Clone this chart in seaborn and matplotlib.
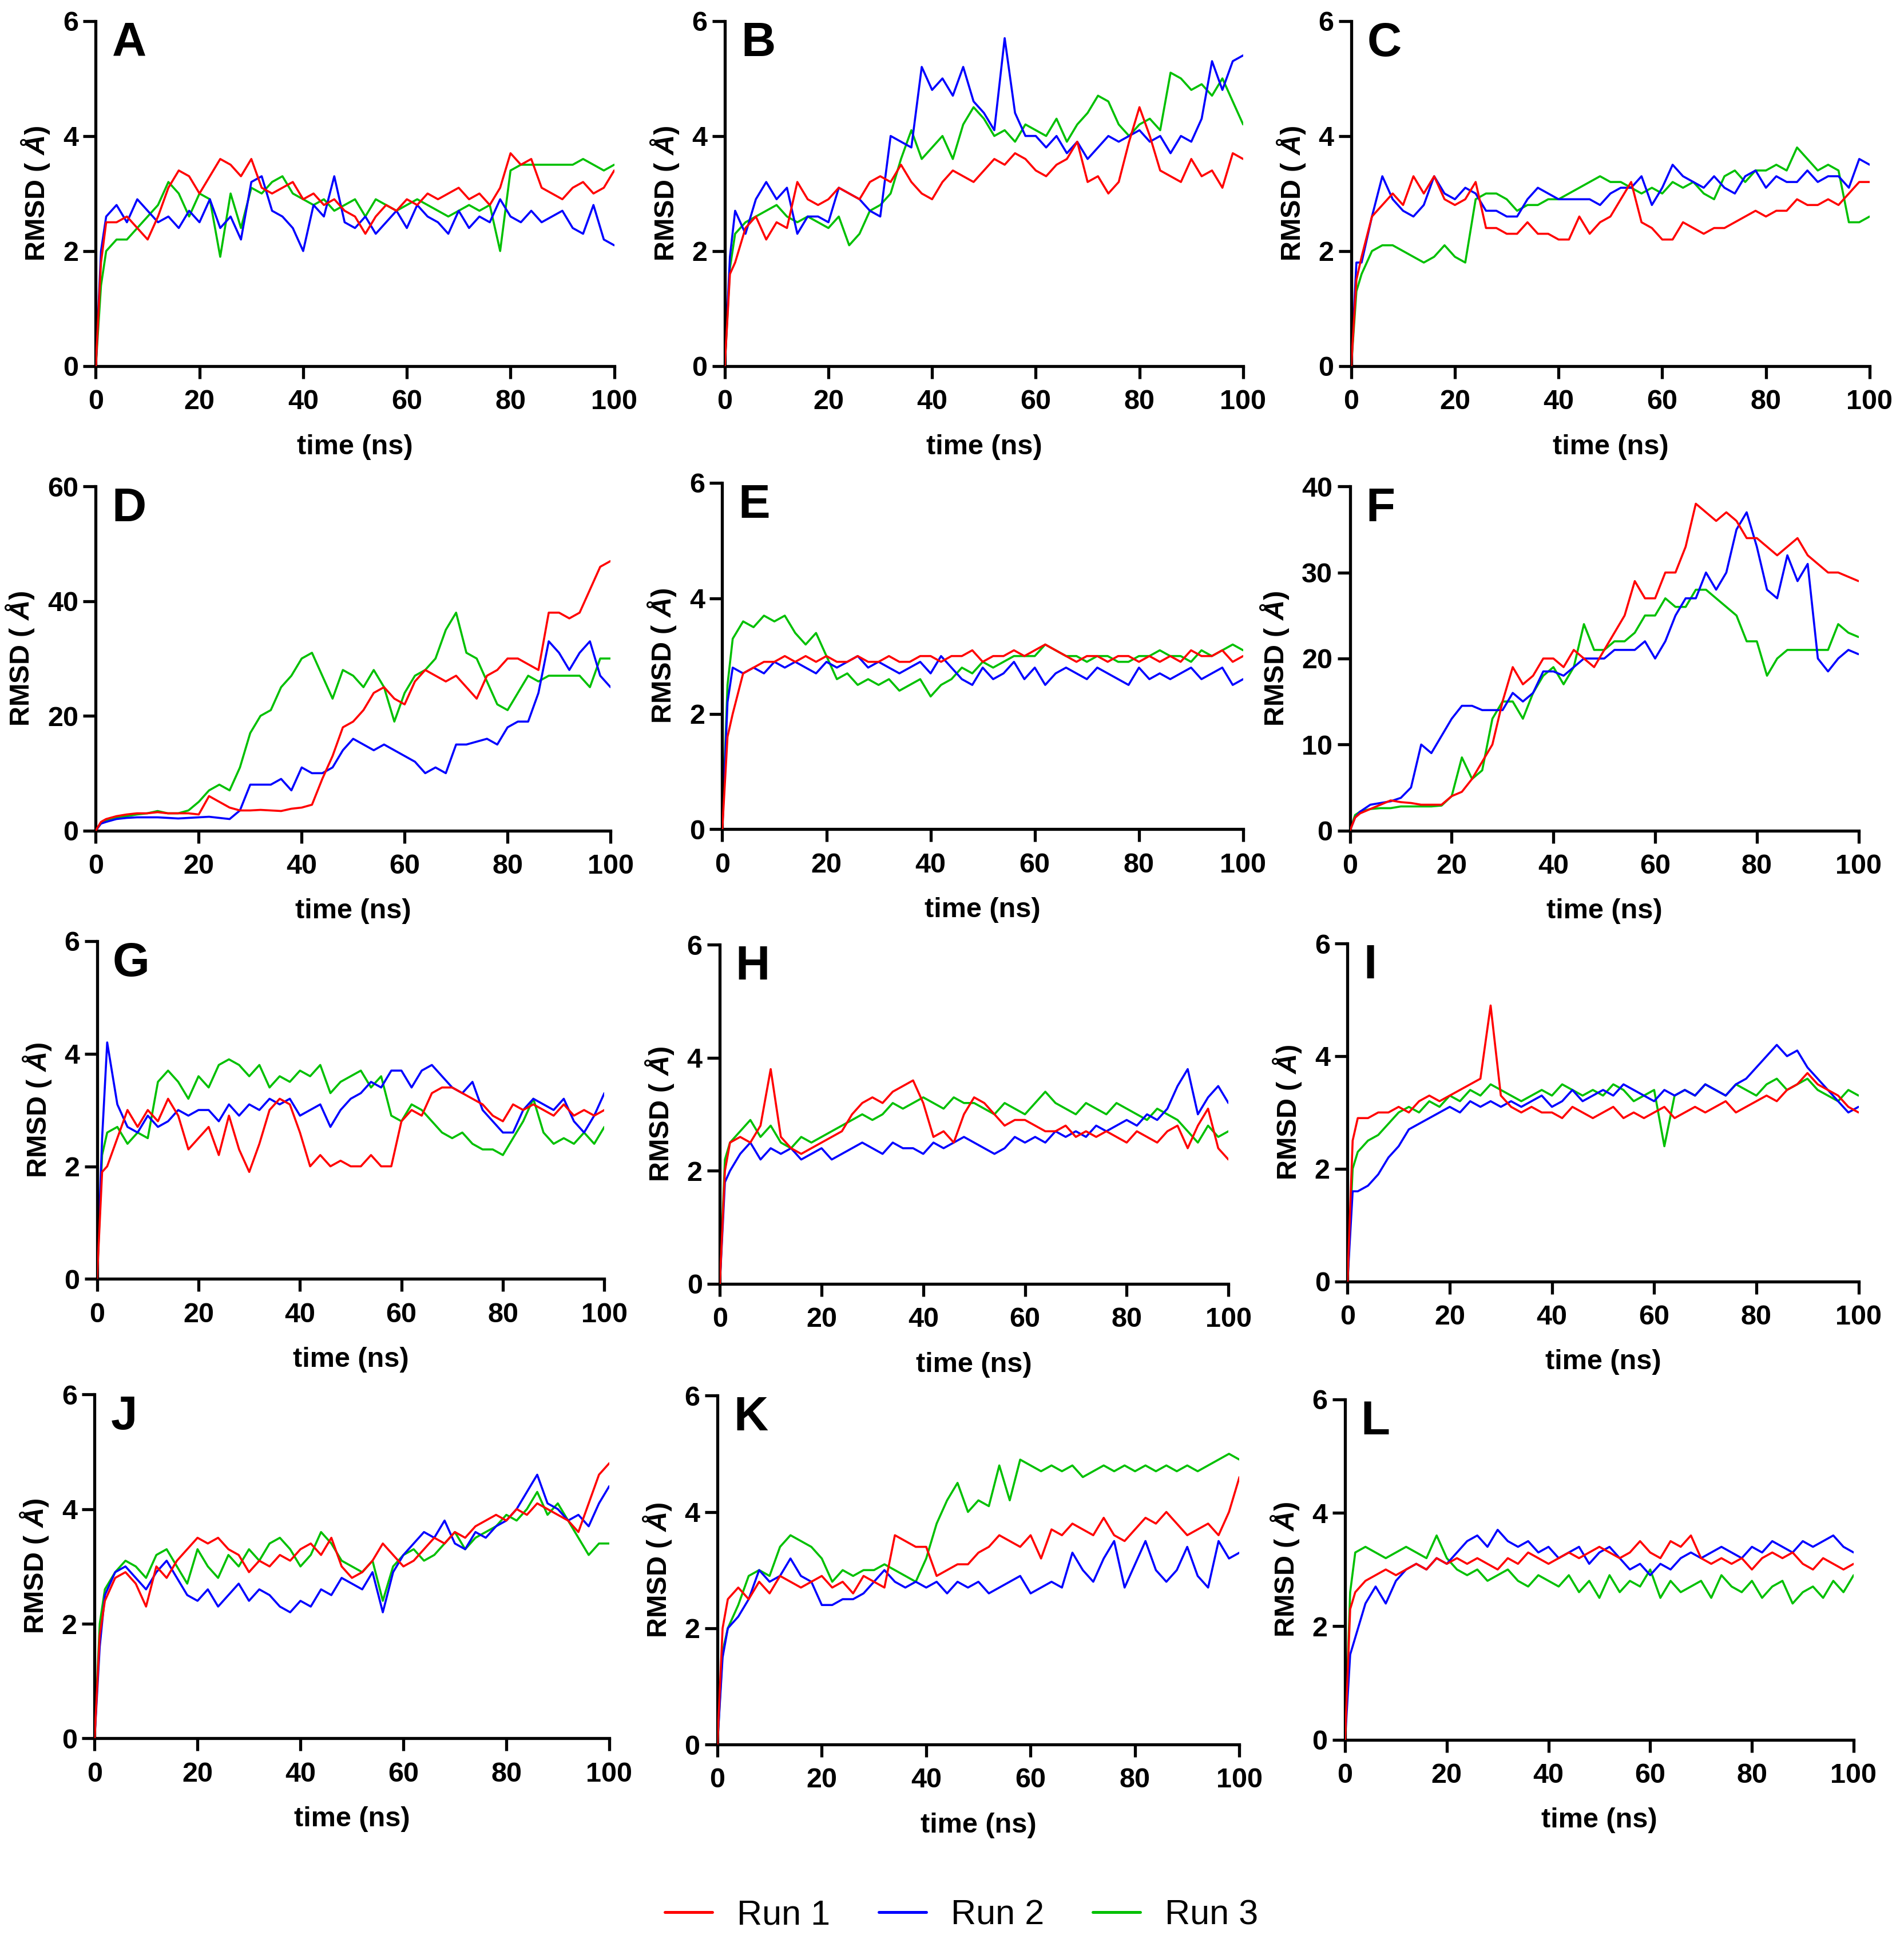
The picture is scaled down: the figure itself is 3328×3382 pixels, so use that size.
import matplotlib
matplotlib.use('Agg')
import matplotlib.pyplot as plt
from matplotlib.lines import Line2D
import seaborn as sns

sns.set_style("ticks")
plt.rcParams['font.family'] = ['Liberation Sans', 'DejaVu Sans']
plt.rcParams['mathtext.fontset'] = 'custom'
plt.rcParams['mathtext.rm'] = 'Liberation Sans:bold'
plt.rcParams['mathtext.it'] = 'Liberation Sans:italic:bold'
plt.rcParams['mathtext.bf'] = 'Liberation Sans:bold'
for key in ['text.color', 'axes.labelcolor', 'xtick.color', 'ytick.color',
            'axes.edgecolor']:
    plt.rcParams[key] = 'black'

# time grid (ns)
time_ns = [0, 1] + list(range(2, 101, 2))

run_labels = ['Run 1', 'Run 2', 'Run 3']
run_colors = ['#ff0000', '#0000ff', '#00c000']

# ---- panel A (RMSD, Å) ----
a_run1 = [0, 1.8,
          2.5, 2.5, 2.6, 2.4, 2.2, 2.6, 3.1, 3.4, 3.3, 3.0,
          3.3, 3.6, 3.5, 3.3, 3.6, 3.1, 3.0, 3.1, 3.2, 2.9,
          3.0, 2.8, 2.9, 2.7, 2.6, 2.3, 2.6, 2.8, 2.7, 2.9,
          2.8, 3.0, 2.9, 3.0, 3.1, 2.9, 3.0, 2.8, 3.1, 3.7,
          3.5, 3.6, 3.1, 3.0, 2.9, 3.1, 3.2, 3.0, 3.1, 3.4]
a_run2 = [0, 2.0,
          2.6, 2.8, 2.5, 2.9, 2.7, 2.5, 2.6, 2.4, 2.7, 2.5,
          2.9, 2.4, 2.6, 2.2, 3.2, 3.3, 2.7, 2.6, 2.4, 2.0,
          2.8, 2.6, 3.3, 2.5, 2.4, 2.6, 2.3, 2.5, 2.7, 2.4,
          2.8, 2.6, 2.5, 2.3, 2.7, 2.4, 2.6, 2.5, 2.9, 2.6,
          2.5, 2.7, 2.5, 2.6, 2.7, 2.4, 2.3, 2.8, 2.2, 2.1]
a_run3 = [0, 1.4,
          2.0, 2.2, 2.2, 2.4, 2.6, 2.8, 3.2, 3.0, 2.6, 3.0,
          2.9, 1.9, 3.0, 2.4, 3.1, 3.0, 3.2, 3.3, 3.0, 2.9,
          2.8, 2.9, 2.7, 2.8, 2.9, 2.6, 2.9, 2.8, 2.7, 2.8,
          2.9, 2.8, 2.7, 2.6, 2.7, 2.8, 2.7, 2.8, 2.0, 3.4,
          3.5, 3.5, 3.5, 3.5, 3.5, 3.5, 3.6, 3.5, 3.4, 3.5]

# ---- panel B ----
b_run1 = [0, 1.6,
          1.8, 2.4, 2.6, 2.2, 2.5, 2.4, 3.2, 2.9, 2.8, 2.9,
          3.1, 3.0, 2.9, 3.2, 3.3, 3.2, 3.5, 3.2, 3.0, 2.9,
          3.2, 3.4, 3.3, 3.2, 3.4, 3.6, 3.5, 3.7, 3.6, 3.4,
          3.3, 3.5, 3.6, 3.9, 3.2, 3.3, 3.0, 3.2, 3.9, 4.5,
          4.0, 3.4, 3.3, 3.2, 3.6, 3.3, 3.4, 3.1, 3.7, 3.6]
b_run2 = [0, 1.9,
          2.7, 2.3, 2.9, 3.2, 2.9, 3.1, 2.3, 2.6, 2.6, 2.5,
          3.1, 3.0, 2.9, 2.7, 2.6, 4.0, 3.9, 3.8, 5.2, 4.8,
          5.0, 4.7, 5.2, 4.6, 4.4, 4.1, 5.7, 4.4, 4.0, 4.0,
          3.8, 4.0, 3.7, 3.9, 3.6, 3.8, 4.0, 3.9, 4.0, 4.1,
          3.9, 4.0, 3.7, 4.0, 3.9, 4.3, 5.3, 4.8, 5.3, 5.4]
b_run3 = [0, 1.7,
          2.3, 2.5, 2.6, 2.7, 2.8, 2.6, 2.5, 2.6, 2.5, 2.4,
          2.6, 2.1, 2.3, 2.7, 2.8, 3.0, 3.6, 4.1, 3.6, 3.8,
          4.0, 3.6, 4.2, 4.5, 4.3, 4.0, 4.1, 3.9, 4.2, 4.1,
          4.0, 4.3, 3.9, 4.2, 4.4, 4.7, 4.6, 4.2, 4.0, 4.2,
          4.3, 4.1, 5.1, 5.0, 4.8, 4.9, 4.7, 5.0, 4.6, 4.2]

# ---- panel C ----
c_run1 = [0, 1.5,
          1.9, 2.6, 2.8, 3.0, 2.8, 3.3, 3.0, 3.3, 2.9, 2.8,
          2.9, 3.2, 2.4, 2.4, 2.3, 2.3, 2.5, 2.3, 2.3, 2.2,
          2.2, 2.6, 2.3, 2.5, 2.6, 2.9, 3.2, 2.5, 2.4, 2.2,
          2.2, 2.5, 2.4, 2.3, 2.4, 2.4, 2.5, 2.6, 2.7, 2.6,
          2.7, 2.7, 2.9, 2.8, 2.8, 2.9, 2.8, 3.0, 3.2, 3.2]
c_run2 = [0, 1.8,
          1.8, 2.6, 3.3, 2.9, 2.7, 2.6, 2.8, 3.3, 3.0, 2.9,
          3.1, 3.0, 2.7, 2.7, 2.6, 2.6, 2.9, 3.1, 3.0, 2.9,
          2.9, 2.9, 2.9, 2.8, 3.0, 3.1, 3.1, 3.3, 2.8, 3.1,
          3.5, 3.3, 3.2, 3.1, 3.3, 3.1, 3.0, 3.3, 3.4, 3.1,
          3.3, 3.2, 3.2, 3.4, 3.2, 3.3, 3.3, 3.1, 3.6, 3.5]
c_run3 = [0, 1.3,
          1.6, 2.0, 2.1, 2.1, 2.0, 1.9, 1.8, 1.9, 2.1, 1.9,
          1.8, 2.9, 3.0, 3.0, 2.9, 2.7, 2.8, 2.8, 2.9, 2.9,
          3.0, 3.1, 3.2, 3.3, 3.2, 3.2, 3.1, 3.0, 3.1, 3.0,
          3.2, 3.1, 3.2, 3.0, 2.9, 3.3, 3.4, 3.2, 3.4, 3.4,
          3.5, 3.4, 3.8, 3.6, 3.4, 3.5, 3.4, 2.5, 2.5, 2.6]

# ---- panel D ----
d_run1 = [0, 1.5,
          2.0, 2.5, 2.8, 3.0, 3.0, 3.2, 3.0, 3.0, 3.0, 2.8,
          6.0, 5.0, 4.0, 3.5, 3.5, 3.6, 3.5, 3.4, 3.8, 4.0,
          4.5, 9.0, 13.0, 18.0, 19.0, 21.0, 24.0, 25.0, 23.0, 22.0,
          26.0, 28.0, 27.0, 26.0, 27.0, 25.0, 23.0, 27.0, 28.0, 30.0,
          30.0, 29.0, 28.0, 38.0, 38.0, 37.0, 38.0, 42.0, 46.0, 47.0]
d_run2 = [0, 1.2,
          1.5, 2.0, 2.2, 2.3, 2.3, 2.3, 2.2, 2.1, 2.2, 2.3,
          2.4, 2.2, 2.0, 3.5, 8.0, 8.0, 8.0, 9.0, 7.0, 11.0,
          10.0, 10.0, 11.0, 14.0, 16.0, 15.0, 14.0, 15.0, 14.0, 13.0,
          12.0, 10.0, 11.0, 10.0, 15.0, 15.0, 15.5, 16.0, 15.0, 18.0,
          19.0, 19.0, 24.0, 33.0, 31.0, 28.0, 31.0, 33.0, 27.0, 25.0]
d_run3 = [0, 1.3,
          1.8, 2.2, 2.5, 2.8, 3.0, 3.4, 3.0, 3.0, 3.5, 5.0,
          7.0, 8.0, 7.0, 11.0, 17.0, 20.0, 21.0, 25.0, 27.0, 30.0,
          31.0, 27.0, 23.0, 28.0, 27.0, 25.0, 28.0, 25.0, 19.0, 24.0,
          27.0, 28.0, 30.0, 35.0, 38.0, 31.0, 30.0, 26.0, 22.0, 21.0,
          24.0, 27.0, 26.0, 27.0, 27.0, 27.0, 27.0, 25.0, 30.0, 30.0]

# ---- panel E ----
e_run1 = [0, 1.6,
          2.0, 2.7, 2.8, 2.9, 2.9, 3.0, 2.9, 3.0, 2.9, 3.0,
          2.9, 2.9, 3.0, 2.9, 2.9, 3.0, 2.9, 2.9, 3.0, 3.0,
          2.9, 3.0, 3.0, 3.1, 2.9, 3.0, 3.0, 3.1, 3.0, 3.1,
          3.2, 3.1, 3.0, 2.9, 3.0, 3.0, 2.9, 3.0, 3.0, 2.9,
          3.0, 2.9, 3.0, 2.9, 3.1, 3.0, 3.0, 3.1, 2.9, 3.0]
e_run2 = [0, 2.2,
          2.8, 2.7, 2.8, 2.7, 2.9, 2.8, 2.9, 2.8, 2.7, 2.9,
          2.8, 2.9, 3.0, 2.8, 2.9, 2.8, 2.7, 2.8, 2.9, 2.7,
          3.0, 2.8, 2.6, 2.5, 2.8, 2.6, 2.7, 2.9, 2.6, 2.8,
          2.5, 2.7, 2.8, 2.7, 2.6, 2.8, 2.7, 2.6, 2.5, 2.8,
          2.6, 2.7, 2.6, 2.7, 2.8, 2.6, 2.7, 2.8, 2.5, 2.6]
e_run3 = [0, 2.5,
          3.3, 3.6, 3.5, 3.7, 3.6, 3.7, 3.4, 3.2, 3.4, 3.0,
          2.6, 2.7, 2.5, 2.6, 2.5, 2.6, 2.4, 2.5, 2.6, 2.3,
          2.5, 2.6, 2.8, 2.7, 2.9, 2.8, 2.9, 3.0, 3.0, 3.0,
          3.2, 3.1, 3.0, 3.0, 2.9, 3.0, 3.0, 2.9, 2.9, 3.0,
          3.0, 3.1, 3.0, 3.0, 2.9, 3.1, 3.0, 3.1, 3.2, 3.1]

# ---- panel F ----
f_run1 = [0, 1.5,
          2.0, 2.5, 3.0, 3.5, 3.3, 3.2, 3.0, 3.0, 3.0, 4.0,
          4.5, 6.0, 8.0, 10.0, 15.0, 19.0, 17.0, 18.0, 20.0, 20.0,
          19.0, 21.0, 20.0, 19.0, 21.0, 23.0, 25.0, 29.0, 27.0, 27.0,
          30.0, 30.0, 33.0, 38.0, 37.0, 36.0, 37.0, 36.0, 34.0, 34.0,
          33.0, 32.0, 33.0, 34.0, 32.0, 31.0, 30.0, 30.0, 29.5, 29.0]
f_run2 = [0, 1.5,
          2.2, 3.0, 3.2, 3.4, 3.8, 5.0, 10.0, 9.0, 11.0, 13.0,
          14.5, 14.5, 14.0, 14.0, 14.0, 16.0, 15.0, 16.0, 18.5, 18.5,
          18.0, 19.0, 20.0, 20.0, 20.0, 21.0, 21.0, 21.0, 22.0, 20.0,
          22.0, 25.0, 27.0, 27.0, 30.0, 28.0, 30.0, 35.0, 37.0, 33.0,
          28.0, 27.0, 32.0, 29.0, 31.0, 20.0, 18.5, 20.0, 21.0, 20.5]
f_run3 = [0, 1.8,
          2.2, 2.5, 2.6, 2.6, 2.8, 2.8, 2.8, 2.8, 2.9, 4.0,
          8.5, 6.0, 7.0, 13.0, 15.0, 15.0, 13.0, 16.0, 18.0, 19.0,
          17.0, 19.0, 24.0, 21.0, 21.0, 22.0, 22.0, 23.0, 25.0, 25.0,
          27.0, 26.0, 26.0, 28.0, 28.0, 27.0, 26.0, 25.0, 22.0, 22.0,
          18.0, 20.0, 21.0, 21.0, 21.0, 21.0, 21.0, 24.0, 23.0, 22.5]

# ---- panel G ----
g_run1 = [0, 1.9,
          2.0, 2.5, 3.0, 2.7, 3.0, 2.8, 3.2, 2.9, 2.3, 2.5,
          2.7, 2.2, 2.9, 2.3, 1.9, 2.4, 3.0, 3.2, 3.1, 2.6,
          2.0, 2.2, 2.0, 2.1, 2.0, 2.0, 2.2, 2.0, 2.0, 2.8,
          3.0, 2.9, 3.3, 3.4, 3.4, 3.3, 3.2, 3.1, 2.9, 2.8,
          3.1, 3.0, 3.1, 3.0, 2.9, 3.1, 2.9, 3.0, 2.9, 3.0]
g_run2 = [0, 2.5,
          4.2, 3.1, 2.7, 2.6, 2.9, 2.7, 2.8, 3.0, 2.9, 3.0,
          3.0, 2.8, 3.1, 2.9, 3.1, 3.0, 3.2, 3.1, 3.2, 2.9,
          3.0, 3.1, 2.7, 3.0, 3.2, 3.3, 3.5, 3.4, 3.7, 3.7,
          3.4, 3.7, 3.8, 3.6, 3.4, 3.3, 3.5, 3.0, 2.8, 2.6,
          2.6, 3.0, 3.2, 3.1, 3.0, 3.2, 2.8, 2.6, 2.9, 3.3]
g_run3 = [0, 2.2,
          2.6, 2.7, 2.4, 2.6, 2.5, 3.5, 3.7, 3.5, 3.2, 3.6,
          3.4, 3.8, 3.9, 3.8, 3.6, 3.8, 3.4, 3.6, 3.5, 3.7,
          3.6, 3.8, 3.3, 3.5, 3.6, 3.7, 3.4, 3.6, 2.9, 2.8,
          3.1, 3.0, 2.8, 2.6, 2.5, 2.6, 2.4, 2.3, 2.3, 2.2,
          2.5, 2.8, 3.2, 2.6, 2.4, 2.5, 2.4, 2.6, 2.4, 2.7]

# ---- panel H ----
h_run1 = [0, 2.0,
          2.5, 2.6, 2.5, 2.8, 3.8, 2.6, 2.4, 2.3, 2.4, 2.5,
          2.6, 2.7, 3.0, 3.2, 3.3, 3.2, 3.4, 3.5, 3.6, 3.2,
          2.6, 2.7, 2.5, 3.0, 3.3, 3.2, 3.0, 2.8, 2.9, 2.9,
          2.8, 2.7, 2.7, 2.8, 2.6, 2.7, 2.6, 2.7, 2.6, 2.5,
          2.7, 2.6, 2.5, 2.7, 2.8, 2.4, 2.8, 3.1, 2.4, 2.2]
h_run2 = [0, 1.8,
          2.0, 2.3, 2.5, 2.2, 2.4, 2.3, 2.4, 2.2, 2.3, 2.4,
          2.2, 2.3, 2.4, 2.5, 2.4, 2.3, 2.5, 2.4, 2.4, 2.3,
          2.5, 2.4, 2.5, 2.6, 2.5, 2.4, 2.3, 2.4, 2.6, 2.5,
          2.6, 2.5, 2.7, 2.6, 2.7, 2.6, 2.8, 2.7, 2.8, 2.9,
          2.8, 3.0, 2.9, 3.1, 3.5, 3.8, 3.0, 3.3, 3.5, 3.2]
h_run3 = [0, 2.2,
          2.5, 2.7, 2.9, 2.6, 2.8, 2.5, 2.4, 2.6, 2.5, 2.6,
          2.7, 2.8, 2.9, 3.0, 2.9, 3.0, 3.2, 3.1, 3.2, 3.3,
          3.2, 3.1, 3.3, 3.2, 3.2, 3.1, 3.0, 3.2, 3.1, 3.0,
          3.2, 3.4, 3.2, 3.1, 3.0, 3.2, 3.1, 3.0, 3.2, 3.1,
          3.0, 2.9, 3.1, 3.0, 2.9, 2.7, 2.5, 2.8, 2.6, 2.7]

# ---- panel I ----
i_run1 = [0, 2.5,
          2.9, 2.9, 3.0, 3.0, 3.1, 3.0, 3.2, 3.3, 3.2, 3.3,
          3.4, 3.5, 3.6, 4.9, 3.3, 3.1, 3.0, 3.1, 3.0, 3.0,
          2.9, 3.1, 3.0, 2.9, 3.0, 3.1, 2.9, 3.0, 2.9, 3.0,
          3.1, 2.9, 3.0, 3.1, 3.0, 3.1, 3.2, 3.0, 3.1, 3.2,
          3.3, 3.2, 3.4, 3.5, 3.7, 3.5, 3.4, 3.3, 3.1, 3.0]
i_run2 = [0, 1.6,
          1.6, 1.7, 1.9, 2.2, 2.4, 2.7, 2.8, 2.9, 3.0, 3.1,
          3.0, 3.2, 3.1, 3.2, 3.1, 3.2, 3.1, 3.2, 3.3, 3.1,
          3.2, 3.4, 3.2, 3.3, 3.4, 3.3, 3.5, 3.4, 3.3, 3.2,
          3.4, 3.3, 3.4, 3.3, 3.5, 3.4, 3.3, 3.5, 3.6, 3.8,
          4.0, 4.2, 4.0, 4.1, 3.8, 3.6, 3.4, 3.2, 3.0, 3.1]
i_run3 = [0, 2.0,
          2.3, 2.5, 2.6, 2.8, 3.0, 3.1, 3.0, 3.2, 3.1, 3.3,
          3.2, 3.4, 3.3, 3.5, 3.4, 3.3, 3.2, 3.3, 3.4, 3.3,
          3.5, 3.4, 3.3, 3.4, 3.3, 3.5, 3.4, 3.2, 3.3, 3.4,
          2.4, 3.3, 3.4, 3.3, 3.5, 3.4, 3.3, 3.5, 3.4, 3.3,
          3.5, 3.6, 3.4, 3.5, 3.6, 3.4, 3.3, 3.2, 3.4, 3.3]

# ---- panel J ----
j_run1 = [0, 1.8,
          2.4, 2.8, 2.9, 2.7, 2.3, 3.0, 2.8, 3.1, 3.3, 3.5,
          3.4, 3.5, 3.3, 3.2, 2.9, 3.1, 3.0, 3.2, 3.1, 3.3,
          3.4, 3.2, 3.5, 3.0, 2.8, 2.9, 3.1, 3.4, 3.2, 3.0,
          3.1, 3.3, 3.5, 3.4, 3.6, 3.5, 3.7, 3.8, 3.9, 3.8,
          4.0, 3.9, 4.1, 4.0, 3.9, 3.8, 3.6, 4.1, 4.6, 4.8]
j_run2 = [0, 1.6,
          2.5, 2.9, 3.0, 2.8, 2.6, 2.9, 3.1, 2.8, 2.5, 2.4,
          2.6, 2.3, 2.5, 2.7, 2.4, 2.6, 2.5, 2.3, 2.2, 2.4,
          2.3, 2.6, 2.5, 2.8, 2.7, 2.6, 2.9, 2.2, 2.9, 3.2,
          3.4, 3.6, 3.5, 3.8, 3.4, 3.3, 3.6, 3.5, 3.7, 3.8,
          4.0, 4.3, 4.6, 4.1, 4.0, 3.8, 3.9, 3.7, 4.1, 4.4]
j_run3 = [0, 2.0,
          2.6, 2.9, 3.1, 3.0, 2.8, 3.2, 3.3, 3.0, 2.7, 3.3,
          3.0, 2.8, 3.2, 3.0, 3.3, 3.1, 3.4, 3.5, 3.3, 3.0,
          3.2, 3.6, 3.4, 3.1, 3.0, 2.9, 3.1, 2.4, 3.0, 3.2,
          3.3, 3.1, 3.2, 3.4, 3.6, 3.3, 3.5, 3.6, 3.7, 3.9,
          3.8, 4.0, 4.3, 3.9, 4.1, 3.8, 3.5, 3.2, 3.4, 3.4]

# ---- panel K ----
k_run1 = [0, 2.0,
          2.5, 2.7, 2.5, 2.8, 2.6, 2.9, 2.8, 2.7, 2.8, 2.9,
          2.7, 2.8, 2.6, 2.9, 2.8, 2.7, 3.6, 3.5, 3.4, 3.4,
          2.9, 3.0, 3.1, 3.1, 3.3, 3.4, 3.6, 3.5, 3.4, 3.6,
          3.2, 3.7, 3.6, 3.8, 3.7, 3.6, 3.9, 3.6, 3.5, 3.7,
          3.9, 3.8, 4.0, 3.8, 3.6, 3.7, 3.8, 3.6, 4.0, 4.6]
k_run2 = [0, 1.5,
          2.0, 2.2, 2.5, 3.0, 2.8, 2.9, 3.2, 2.9, 2.8, 2.4,
          2.4, 2.5, 2.5, 2.6, 2.8, 3.0, 2.8, 2.7, 2.8, 2.7,
          2.8, 2.6, 2.8, 2.7, 2.8, 2.6, 2.7, 2.8, 2.9, 2.6,
          2.7, 2.8, 2.7, 3.3, 3.0, 2.8, 3.2, 3.5, 2.7, 3.1,
          3.5, 3.0, 2.8, 3.0, 3.4, 2.9, 2.7, 3.5, 3.2, 3.3]
k_run3 = [0, 1.6,
          2.0, 2.4, 2.9, 3.0, 2.9, 3.4, 3.6, 3.5, 3.4, 3.2,
          2.8, 3.0, 2.9, 3.0, 3.0, 3.1, 3.0, 2.9, 2.8, 3.2,
          3.8, 4.2, 4.5, 4.0, 4.2, 4.1, 4.8, 4.2, 4.9, 4.8,
          4.7, 4.8, 4.7, 4.8, 4.6, 4.7, 4.8, 4.7, 4.8, 4.7,
          4.8, 4.7, 4.8, 4.7, 4.8, 4.7, 4.8, 4.9, 5.0, 4.9]

# ---- panel L ----
l_run1 = [0, 2.3,
          2.6, 2.8, 2.9, 3.0, 2.9, 3.0, 3.1, 3.0, 3.2, 3.1,
          3.2, 3.1, 3.2, 3.1, 3.0, 3.2, 3.1, 3.3, 3.2, 3.1,
          3.2, 3.3, 3.2, 3.3, 3.4, 3.3, 3.2, 3.3, 3.5, 3.3,
          3.2, 3.5, 3.4, 3.6, 3.2, 3.1, 3.2, 3.1, 3.2, 3.0,
          3.2, 3.3, 3.2, 3.3, 3.1, 3.0, 3.2, 3.1, 3.0, 3.1]
l_run2 = [0, 1.5,
          1.8, 2.4, 2.7, 2.4, 2.8, 3.0, 3.1, 3.0, 3.2, 3.1,
          3.3, 3.5, 3.6, 3.4, 3.7, 3.5, 3.4, 3.5, 3.3, 3.4,
          3.2, 3.3, 3.4, 3.1, 3.3, 3.4, 3.2, 3.0, 3.1, 2.9,
          3.1, 3.0, 3.2, 3.3, 3.2, 3.3, 3.4, 3.3, 3.2, 3.4,
          3.3, 3.5, 3.4, 3.3, 3.5, 3.4, 3.5, 3.6, 3.4, 3.3]
l_run3 = [0, 2.6,
          3.3, 3.4, 3.3, 3.2, 3.3, 3.4, 3.3, 3.2, 3.6, 3.2,
          3.0, 2.9, 3.0, 2.8, 2.9, 3.0, 2.8, 2.7, 2.9, 2.8,
          2.7, 2.9, 2.6, 2.8, 2.5, 2.9, 2.6, 2.8, 2.7, 3.0,
          2.5, 2.8, 2.6, 2.7, 2.8, 2.5, 2.9, 2.7, 2.6, 2.8,
          2.5, 2.7, 2.8, 2.4, 2.6, 2.7, 2.5, 2.8, 2.6, 2.9]

panel_letters = ['A', 'B', 'C', 'D', 'E', 'F', 'G', 'H', 'I', 'J', 'K', 'L']
panel_ymax = [6, 6, 6, 60, 6, 40, 6, 6, 6, 6, 6, 6]
panel_ystep = [2, 2, 2, 20, 2, 10, 2, 2, 2, 2, 2, 2]
panel_runs = [
    (a_run1, a_run2, a_run3), (b_run1, b_run2, b_run3), (c_run1, c_run2, c_run3),
    (d_run1, d_run2, d_run3), (e_run1, e_run2, e_run3), (f_run1, f_run2, f_run3),
    (g_run1, g_run2, g_run3), (h_run1, h_run2, h_run3), (i_run1, i_run2, i_run3),
    (j_run1, j_run2, j_run3), (k_run1, k_run2, k_run3), (l_run1, l_run2, l_run3),
]

# axes boxes measured on a 1550 x 1575 view of the reference (x0, y0, x1, y1)
BOXES = [
    (78, 17, 500, 298), (590, 17, 1012, 298), (1100, 17, 1522, 298),
    (78, 396, 497, 676), (588, 393, 1012, 675), (1099, 396, 1513, 676),
    (79, 766, 492, 1041), (586, 769, 1000, 1045), (1097, 768, 1513, 1043),
    (77, 1135, 496, 1415), (584, 1136, 1009, 1420), (1095, 1139, 1509, 1416),
]
VW, VH = 1550.0, 1575.0


def draw_panel(fig, box, letter, ymax, ystep, runs):
    x0, y0, x1, y1 = box
    ax = fig.add_axes([x0 / VW, 1 - y1 / VH, (x1 - x0) / VW, (y1 - y0) / VH])
    for vals, color, z in zip(runs, run_colors, [3, 2, 1]):
        assert len(vals) == len(time_ns)
        sns.lineplot(x=time_ns, y=vals, ax=ax, color=color, linewidth=1.3,
                     zorder=z, errorbar=None, legend=False)
    ax.set_xlim(0, 100)
    ax.set_ylim(0, ymax)
    ax.set_xticks(range(0, 101, 20))
    ax.set_yticks(range(0, ymax + 1, ystep))
    sns.despine(ax=ax)
    for side in ['left', 'bottom']:
        ax.spines[side].set_linewidth(1.9)
    ax.tick_params(width=1.9, length=8, labelsize=17.5, colors='black')
    ax.tick_params(axis='x', pad=6.5)
    ax.tick_params(axis='y', pad=3)
    for lab in ax.get_xticklabels() + ax.get_yticklabels():
        lab.set_fontweight('bold')
    ax.set_xlabel('time (ns)', fontsize=17.5, fontweight='bold', labelpad=12)
    ax.set_ylabel('RMSD ( $\\mathit{Å}$)', fontsize=17.5, fontweight='bold',
                  labelpad=7)
    ax.text(0.031, 1.0, letter, transform=ax.transAxes, fontsize=30,
            fontweight='bold', va='top', ha='left')
    return ax


fig = plt.figure(figsize=(16.64, 16.91), dpi=200)
for box, letter, ymax, ystep, runs in zip(BOXES, panel_letters, panel_ymax,
                                          panel_ystep, panel_runs):
    draw_panel(fig, box, letter, ymax, ystep, runs)

handles = [Line2D([], [], color=c, linewidth=1.8) for c in run_colors]
fig.legend(handles, run_labels, loc='center', bbox_to_anchor=(0.505, 0.010),
           ncol=3, frameon=False, fontsize=22, handlelength=1.35,
           handletextpad=0.7, columnspacing=1.4)

fig.savefig('out.png', dpi=200)
